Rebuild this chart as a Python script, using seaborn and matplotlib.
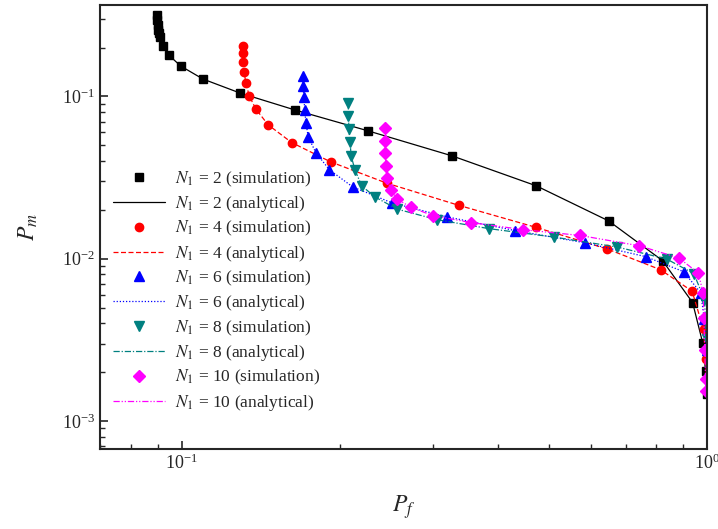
import numpy as np
import matplotlib
matplotlib.use("Agg")
import matplotlib.pyplot as plt
import matplotlib.ticker as mticker
import seaborn as sns
from matplotlib.lines import Line2D

sns.set_style("ticks")
plt.rcParams['font.family'] = ['Liberation Serif', 'DejaVu Serif']
plt.rcParams['mathtext.fontset'] = 'stix'

# P_f (x) and P_m (y)
pf2 = [0.0896, 0.0896, 0.0900, 0.0900, 0.0904, 0.0908, 0.0920, 0.0944, 0.0995, 0.1097, 0.129,
       0.164, 0.226, 0.327, 0.473, 0.649, 0.822, 0.938, 0.980, 0.993, 0.997]
pm2 = [0.317, 0.296, 0.275, 0.256, 0.246, 0.232, 0.205, 0.180, 0.154, 0.128, 0.105,
       0.0826, 0.0614, 0.0430, 0.0281, 0.0171, 0.00973, 0.00536, 0.00304, 0.00202, 0.00146]

pf4 = [0.1305, 0.1307, 0.1308, 0.1313, 0.1324, 0.1343, 0.1384, 0.146, 0.1618, 0.192, 0.2455,
       0.337, 0.472, 0.645, 0.815, 0.936, 0.984, 0.993, 0.997]
pm4 = [0.205, 0.184, 0.162, 0.142, 0.1216, 0.101, 0.0834, 0.0668, 0.052, 0.0395, 0.0292,
       0.0213, 0.0156, 0.01148, 0.00855, 0.0063, 0.00366, 0.0024, 0.0018]

pf6 = [0.170, 0.170, 0.1708, 0.1713, 0.1723, 0.174, 0.180, 0.191, 0.2114, 0.251, 0.3196,
       0.431, 0.584, 0.763, 0.902, 0.971, 0.988, 0.997]
pm6 = [0.1337, 0.116, 0.0993, 0.0826, 0.0687, 0.0563, 0.0449, 0.0353, 0.0277, 0.0221, 0.0181,
       0.0149, 0.01254, 0.0103, 0.00831, 0.00618, 0.00422, 0.00275]

pf8 = [0.2075, 0.2075, 0.208, 0.209, 0.210, 0.2137, 0.220, 0.2332, 0.257, 0.3057, 0.385,
       0.510, 0.674, 0.8366, 0.943, 0.988, 0.997]
pm8 = [0.0908, 0.0759, 0.0628, 0.0527, 0.043, 0.035, 0.0281, 0.024, 0.0202, 0.0174, 0.0153,
       0.0136, 0.0118, 0.00996, 0.00809, 0.0056, 0.00318]

pf10 = [0.2437, 0.2437, 0.244, 0.2447, 0.2455, 0.250, 0.257, 0.273, 0.301, 0.355, 0.446,
        0.573, 0.743, 0.883, 0.961, 0.9826, 0.985, 0.9895, 0.9925, 0.993]
pm10 = [0.0643, 0.0532, 0.0451, 0.037, 0.0314, 0.0266, 0.0233, 0.0207, 0.0184, 0.0167, 0.0151,
        0.0139, 0.0120, 0.0101, 0.00817, 0.00615, 0.00432, 0.00275, 0.0018, 0.00152]

series = [
    (2, pf2, pm2, 'black', 's', '-', 5.5),
    (4, pf4, pm4, 'red', 'o', (0, (4, 2)), 6),
    (6, pf6, pm6, 'blue', '^', (0, (1, 1.5)), 7),
    (8, pf8, pm8, '#008080', 'v', (0, (5, 1.5, 1, 1.5)), 7),
    (10, pf10, pm10, 'magenta', 'D', (0, (5, 1.5, 1, 1.5, 1, 1.5)), 6),
]

fig = plt.figure(figsize=(7.18, 5.29), dpi=100)
ax = fig.add_axes([0.139, 0.151, 0.846, 0.8395])

handles = []
for n, xs, ys, c, m, ls, ms in series:
    sns.lineplot(x=xs, y=ys, sort=False, estimator=None, color=c, linestyle=ls, lw=0.9, ax=ax)
    ax.plot(xs, ys, linestyle='none', marker=m, color=c, ms=ms, mec=c)
    handles.append(Line2D([], [], linestyle='none', marker=m, color=c, ms=ms))
    handles.append(Line2D([], [], linestyle=ls, color=c, lw=0.9))

labels = []
for n, *_ in series:
    labels.append(f'$N_1$ = {n} (simulation)')
    labels.append(f'$N_1$ = {n} (analytical)')

ax.set_xscale('log')
ax.set_yscale('log')
ax.set_xlim(0.0698, 1.0)
ax.set_ylim(6.7e-4, 0.366)
ax.xaxis.set_minor_formatter(mticker.NullFormatter())
ax.yaxis.set_minor_formatter(mticker.NullFormatter())

ax.tick_params(which='both', direction='in', labelsize=13)
ax.tick_params(which='major', length=6, width=1.2)
ax.tick_params(which='minor', length=3.5, width=1)
for s in ax.spines.values():
    s.set_linewidth(1.5)

ax.set_xlabel('$P_f$', fontsize=17, labelpad=14)
ax.set_ylabel('$P_m$', fontsize=17, labelpad=16)

ax.legend(handles, labels, loc='upper left', bbox_to_anchor=(0.01, 0.645), frameon=False,
          fontsize=12.5, handlelength=3.0, handletextpad=0.6, labelspacing=0.3, borderaxespad=0)

fig.savefig('out.png', dpi=100)
